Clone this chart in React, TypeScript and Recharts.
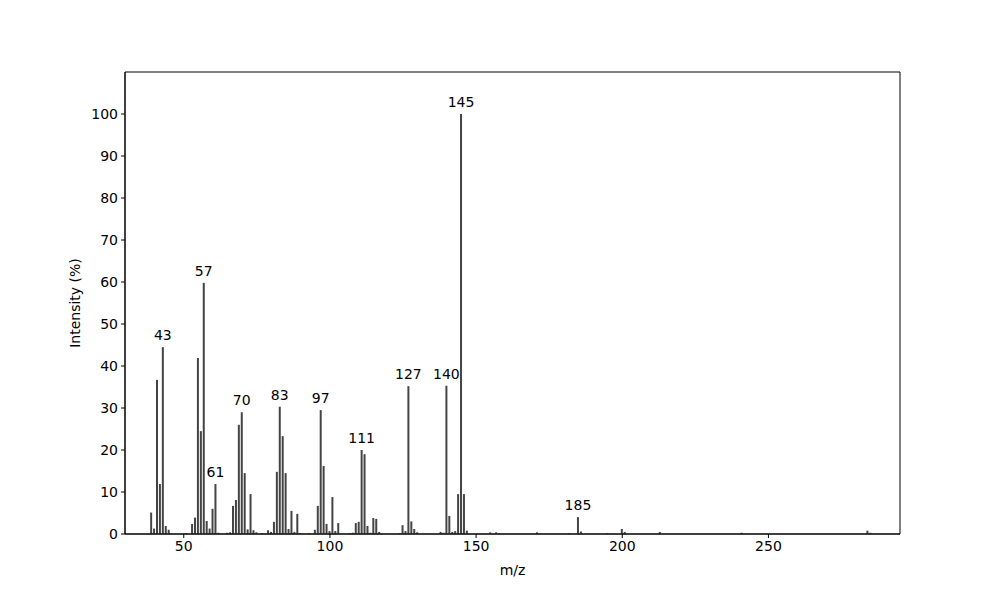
import React from 'react';
import { BarChart, Bar, XAxis, YAxis, LabelList, Label, ReferenceArea } from 'recharts';

// m/z values and relative intensities (%)
const mzValues = [
  39, 40, 41, 42, 43, 44, 45, 51, 53, 54, 55, 56, 57, 58, 59, 60, 61, 62,
  65, 66, 67, 68, 69, 70, 71, 72, 73, 74, 75, 77, 79, 80, 81, 82, 83, 84,
  85, 86, 87, 88, 89, 90, 93, 95, 96, 97, 98, 99, 100, 101, 102, 103, 107,
  108, 109, 110, 111, 112, 113, 114, 115, 116, 117, 124, 125, 126, 127, 128,
  129, 130, 138, 139, 140, 141, 142, 143, 144, 145, 146, 147, 155, 157, 158,
  171, 182, 185, 186, 195, 200, 201, 213, 241, 284, 285,
];
const intensities = [
  5.1, 1.3, 36.7, 11.9, 44.5, 1.9, 1.0, 0.2, 2.4, 3.9, 41.9, 24.5, 59.8, 3.1, 1.3, 6.0, 11.9, 0.3,
  0.3, 0.4, 6.7, 8.1, 26.0, 29.0, 14.5, 1.1, 9.5, 0.9, 0.4, 0.2, 0.9, 0.5, 2.9, 14.8, 30.3, 23.3,
  14.5, 1.2, 5.5, 0.5, 4.8, 0.2, 0.2, 1.0, 6.7, 29.5, 16.2, 2.4, 0.7, 8.8, 0.7, 2.6, 0.2,
  0.3, 2.6, 2.9, 20.0, 19.0, 1.9, 0.3, 3.8, 3.6, 0.5, 0.2, 2.1, 0.7, 35.2, 3.0,
  1.2, 0.4, 0.5, 0.3, 35.3, 4.3, 0.5, 0.7, 9.5, 100, 9.5, 0.8, 0.4, 0.4, 0.2,
  0.4, 0.2, 4.0, 0.6, 0.2, 1.2, 0.5, 0.5, 0.3, 0.8, 0.3,
];
// peaks that carry an annotation
const labeledPeaks = [43, 57, 61, 70, 83, 97, 111, 127, 140, 145, 185];

const xTicks = [50, 100, 150, 200, 250];
const yTicks = [0, 10, 20, 30, 40, 50, 60, 70, 80, 90, 100];

const data = mzValues.map((mz, i) => ({
  mz,
  intensity: intensities[i],
  label: labeledPeaks.includes(mz) ? String(mz) : '',
}));

const FONT = 'DejaVu Sans, sans-serif';
const X_DOMAIN: [number, number] = [29.9, 295.0];
const Y_DOMAIN: [number, number] = [0, 110];

const renderPeakLabel = (props: any) => {
  const { x, y, width, value } = props;
  if (!value) return null;
  return (
    <text
      x={Number(x) + Number(width) / 2}
      y={Number(y) - 7}
      textAnchor="middle"
      fontSize={14}
      fontFamily={FONT}
      fill="#000"
    >
      {value}
    </text>
  );
};

const App: React.FC = () => {
  return (
    <div style={{ position: 'absolute', left: 0, top: 0, width: 1000, height: 600, background: '#fff' }}>
      <BarChart
        width={1000}
        height={600}
        data={data}
        margin={{ top: 72, right: 100, left: 0, bottom: 0 }}
        barSize={2}
      >
        <XAxis
          dataKey="mz"
          type="number"
          domain={X_DOMAIN}
          allowDataOverflow
          ticks={xTicks}
          height={66}
          tickSize={4}
          tickMargin={3}
          stroke="#000"
          tick={{ fill: '#000', fontSize: 14, fontFamily: FONT }}
        >
          <Label
            content={() => (
              <text x={512.5} y={575} textAnchor="middle" fontSize={14} fontFamily={FONT} fill="#000">
                m/z
              </text>
            )}
          />
        </XAxis>
        <YAxis
          type="number"
          domain={Y_DOMAIN}
          ticks={yTicks}
          width={125}
          tickSize={4}
          tickMargin={3}
          stroke="#000"
          tick={{ fill: '#000', fontSize: 14, fontFamily: FONT }}
        >
          <Label
            content={() => (
              <text
                x={80}
                y={303}
                textAnchor="middle"
                fontSize={14}
                fontFamily={FONT}
                fill="#000"
                transform="rotate(-90 80 303)"
              >
                Intensity (%)
              </text>
            )}
          />
        </YAxis>
        <Bar dataKey="intensity" fill="#444" isAnimationActive={false}>
          <LabelList dataKey="label" content={renderPeakLabel} />
        </Bar>
        {/* plot frame */}
        <ReferenceArea
          x1={X_DOMAIN[0]}
          x2={X_DOMAIN[1]}
          y1={Y_DOMAIN[0]}
          y2={Y_DOMAIN[1]}
          fill="none"
          fillOpacity={0}
          stroke="#000"
          strokeWidth={1}
          ifOverflow="visible"
        />
      </BarChart>
    </div>
  );
};

export default App;
